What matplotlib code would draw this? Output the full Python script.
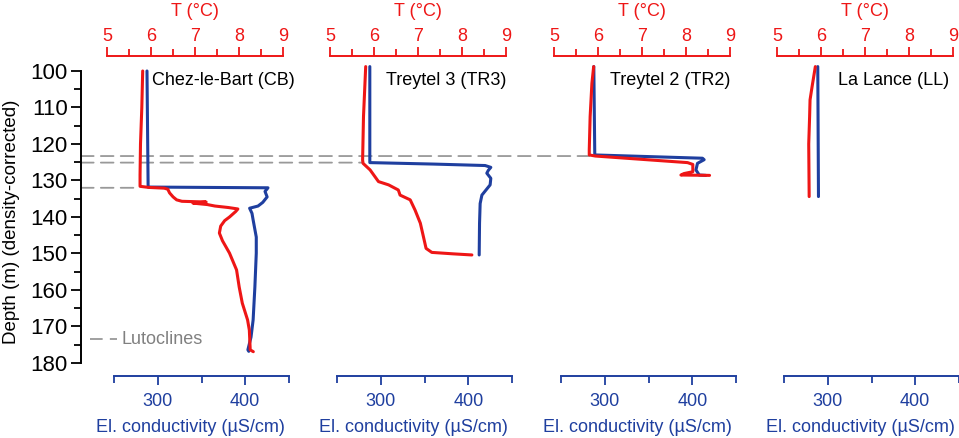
import matplotlib
matplotlib.use("Agg")
import matplotlib.pyplot as plt
from matplotlib.patches import ConnectionPatch
from matplotlib.transforms import blended_transform_factory

plt.rcParams['font.family'] = ['Liberation Sans', 'DejaVu Sans']
plt.rcParams['font.size'] = 13

RED = '#ee1616'
BLUE = '#1f3f9f'
GREY = '#999999'

# site names
sites = ['Chez-le-Bart (CB)', 'Treytel 3 (TR3)', 'Treytel 2 (TR2)', 'La Lance (LL)']

# temperature profiles (depth m, T degC)
cb_t_depth = [100, 110, 120, 128.5, 131.6, 131.9, 132.1, 132.4, 133.4, 134.5, 135.3, 135.7,
              135.9, 136.2, 136.6, 137.0, 137.4, 137.8, 138.5, 140.0, 141.0, 142.5, 144.4,
              146.5, 149.9, 154.5, 159.2, 163.6, 168.2, 171.0, 176.4, 176.9]
cb_t = [5.81, 5.79, 5.76, 5.75, 5.75, 5.95, 6.30, 6.38, 6.42, 6.50, 6.58, 6.70,
        7.25, 6.95, 7.28, 7.45, 7.75, 7.97, 7.92, 7.78, 7.67, 7.58, 7.55,
        7.62, 7.78, 7.94, 8.00, 8.07, 8.19, 8.23, 8.25, 8.32]

tr3_t_depth = [98.8, 112.5, 124.4, 125.3, 127.1, 130.3, 131.2, 132.6, 134.0, 135.3, 138.1,
               141.7, 145.4, 148.6, 149.7, 150.1, 150.4]
tr3_t = [5.81, 5.76, 5.74, 5.75, 5.91, 6.10, 6.33, 6.55, 6.59, 6.82, 6.93,
         7.05, 7.12, 7.18, 7.31, 7.80, 8.22]

tr2_t_depth = [98.8, 103.4, 112.5, 121.6, 123.0, 123.3, 125.1, 125.6, 127.6, 128.1, 128.5, 128.6]
tr2_t = [5.90, 5.86, 5.82, 5.80, 5.80, 5.94, 8.03, 8.15, 8.15, 7.95, 7.88, 8.53]

ll_t_depth = [98.8, 104.0, 107.9, 112.5, 120.0, 134.4]
ll_t = [5.87, 5.80, 5.75, 5.74, 5.72, 5.73]

# conductivity profiles (depth m, uS/cm)
cb_c_depth = [100, 131.8, 132.0, 133.0, 134.5, 136.0, 137.0, 137.6, 139.0, 140.8, 145.5,
              149.9, 159.2, 168.2, 172.9, 176.4, 176.8]
cb_c = [287.7, 289, 426, 422.6, 425, 420, 414.6, 405, 407.7, 409, 412.6,
        412.6, 411, 409, 406.6, 403, 404]

tr3_c_depth = [98.8, 125.1, 125.5, 125.9, 126.4, 127.2, 128.0, 129.4, 131.2, 134.0, 136.3,
               141.7, 150.4]
tr3_c = [287.5, 287.5, 360, 419.3, 425.8, 423, 421.2, 425.8, 425, 415.6, 413.6,
         412.9, 412.5]

tr2_c_depth = [98.8, 123.0, 123.9, 124.3, 125.3, 127.1, 128.5, 128.6]
tr2_c = [287.5, 288.6, 411.7, 413.6, 406, 404.2, 408, 415.6]

ll_c_depth = [98.8, 134.4]
ll_c = [288.6, 289.4]

t_profiles = [(cb_t_depth, cb_t), (tr3_t_depth, tr3_t), (tr2_t_depth, tr2_t), (ll_t_depth, ll_t)]
c_profiles = [(cb_c_depth, cb_c), (tr3_c_depth, tr3_c), (tr2_c_depth, tr2_c), (ll_c_depth, ll_c)]

# lutoclines: depth, panel where the line stops, temperature there
luto_depth = [123.3, 125.1, 132.0]
luto_panel = [2, 1, 0]
luto_t_end = [5.80, 5.75, 5.75]

t_ticks = [5, 6, 7, 8, 9]
c_ticks = [300, 400]
depth_ticks = [100, 110, 120, 130, 140, 150, 160, 170, 180]

W, H = 959, 438
fig = plt.figure(figsize=(W / 100, H / 100), dpi=100)

lefts = [107, 330, 554, 777]
ax_w = 182
top_px, bot_px = 56.5, 375.7
ax_h = bot_px - top_px

axs, axs_t = [], []
for i, left in enumerate(lefts):
    ax = fig.add_axes([left / W, 1 - bot_px / H, ax_w / W, ax_h / H])
    ax.set_facecolor('none')
    ax.set_xlim(242, 450)
    ax.set_ylim(183.48, 96.03)
    for s in ['top', 'right', 'left']:
        ax.spines[s].set_visible(False)
    ax.spines['bottom'].set_bounds(250, 450)
    ax.spines['bottom'].set_color(BLUE)
    ax.spines['bottom'].set_linewidth(1.4)
    ax.set_xticks(c_ticks)
    ax.set_xticks([250, 350, 450], minor=True)
    ax.tick_params(axis='x', which='major', colors=BLUE, length=6.8, width=1.3, pad=5.5, labelsize=13)
    ax.tick_params(axis='x', which='minor', colors=BLUE, length=4.7, width=1.3)
    ax.text((91 - 8) / ax_w, -(427 - bot_px) / ax_h, 'El. conductivity (µS/cm)', transform=ax.transAxes,
            color=BLUE, fontsize=13, ha='center', va='center')

    if i == 0:
        ax.spines['left'].set_visible(True)
        ax.spines['left'].set_position(('outward', 18.7))
        ax.spines['left'].set_bounds(100, 180)
        ax.spines['left'].set_linewidth(1.4)
        ax.set_yticks(depth_ticks)
        ax.set_yticks([d + 5 for d in depth_ticks[:-1]], minor=True)
        ax.tick_params(axis='y', which='major', length=7, width=1.3, pad=2.5, labelsize=16)
        ax.tick_params(axis='y', which='minor', length=4.7, width=1.3)
    else:
        ax.tick_params(axis='y', which='both', left=False, labelleft=False)

    ax_t = ax.twiny()
    ax_t.set_facecolor('none')
    ax_t.set_xlim(5, 9.13)
    for s in ['bottom', 'right', 'left']:
        ax_t.spines[s].set_visible(False)
    ax_t.spines['top'].set_bounds(5, 9)
    ax_t.spines['top'].set_color(RED)
    ax_t.spines['top'].set_linewidth(1.4)
    ax_t.set_xticks(t_ticks)
    ax_t.set_xticks([5.5, 6.5, 7.5, 8.5], minor=True)
    ax_t.tick_params(axis='x', which='major', colors=RED, length=6.8, width=1.3, pad=1.8, labelsize=13)
    ax_t.tick_params(axis='x', which='minor', colors=RED, length=4.7, width=1.3)
    ax_t.text(7, 1 + (top_px - 12) / ax_h, 'T (°C)',
              transform=blended_transform_factory(ax_t.transData, ax_t.transAxes),
              color=RED, fontsize=13, ha='center', va='center')

    cd, cv = c_profiles[i]
    ax.plot(cv, cd, color=BLUE, lw=2.2, solid_capstyle='round', solid_joinstyle='round')
    td, tv = t_profiles[i]
    ax_t.plot(tv, td, color=RED, lw=2.2, solid_capstyle='round', solid_joinstyle='round')

    ax_t.text(0.64, 102.5, sites[i], transform=blended_transform_factory(ax_t.transAxes, ax_t.transData),
              ha='center', va='center', fontsize=13, color='black')
    axs.append(ax)
    axs_t.append(ax_t)

ax0 = axs[0]
fig_y = blended_transform_factory(fig.transFigure, ax0.transData)
dash = (0, (7, 4))

# lutocline lines from the depth axis to the jump in each profile
for d, k, t_end in zip(luto_depth, luto_panel, luto_t_end):
    con = ConnectionPatch(xyA=(81 / W, d), coordsA=fig_y,
                          xyB=(t_end, d), coordsB=axs_t[k].transData,
                          color=GREY, lw=1.3, linestyle=dash, zorder=-1)
    fig.add_artist(con)

# legend entry
ax0.plot([90 / W, 117 / W], [173.5, 173.5], transform=fig_y, color=GREY, lw=1.3,
         linestyle=dash, clip_on=False)
ax0.text(121 / W, 173.5, 'Lutoclines', transform=fig_y, color='#808080', fontsize=13,
         ha='left', va='center')

fig.text(12 / W, 1 - 222 / H, 'Depth (m) (density-corrected)', rotation=90,
         ha='center', va='center', fontsize=13.5)

fig.savefig('out.png', dpi=100)
